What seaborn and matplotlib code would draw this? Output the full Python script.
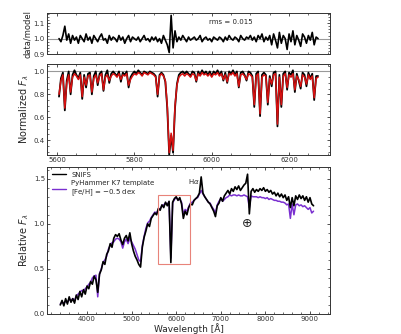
import numpy as np
import pandas as pd
import matplotlib
matplotlib.use("Agg")
import matplotlib.pyplot as plt
from matplotlib.patches import Rectangle
import seaborn as sns

# ---------------- data ----------------
# zoomed region (5 A sampling)
wave_zoom = np.arange(5605, 6276, 5)
model_norm = [
    0.80, 0.92, 0.97, 0.68, 0.90, 0.97, 0.82, 0.95, 0.98, 0.96,
    0.93, 0.97, 0.78, 0.95, 0.88, 0.96, 0.97, 0.82, 0.94, 0.97,
    0.90, 0.96, 0.98, 0.84, 0.95, 0.97, 0.92, 0.96, 0.98, 0.97,
    0.95, 0.98, 0.93, 0.97, 0.96, 0.98, 0.88, 0.93, 0.96, 0.98,
    0.97, 0.99, 0.98, 0.96, 0.99, 0.98, 0.97, 0.99, 0.98, 0.97,
    0.95, 0.80, 0.96, 0.98, 0.96, 0.92, 0.70, 0.29, 0.46, 0.31,
    0.70, 0.88, 0.95, 0.97, 0.98, 0.96, 0.98, 0.97, 0.95, 0.98,
    0.97, 0.92, 0.98, 0.96, 0.99, 0.97, 0.98, 0.96, 0.98, 0.95,
    0.98, 0.97, 0.99, 0.96, 0.98, 0.93, 0.97, 0.91, 0.98, 0.97,
    0.99, 0.96, 0.98, 0.87, 0.97, 0.98, 0.96, 0.93, 0.98, 0.97,
    0.95, 0.71, 0.96, 0.98, 0.63, 0.95, 0.97, 0.96, 0.73, 0.94,
    0.89, 0.97, 0.98, 0.54, 0.95, 0.71, 0.96, 0.98, 0.86, 0.97,
    0.95, 0.98, 0.84, 0.96, 0.93, 0.87, 0.97, 0.95, 0.89, 0.97,
    0.93, 0.96, 0.77, 0.94, 0.95,
]
snifs_norm = [
    0.78, 0.94, 0.99, 0.66, 0.92, 1.00, 0.80, 0.97, 1.01, 0.97,
    0.94, 0.99, 0.76, 0.97, 0.86, 0.98, 0.99, 0.80, 0.96, 1.00,
    0.88, 0.98, 1.00, 0.83, 0.97, 1.01, 0.90, 0.98, 1.00, 0.98,
    0.96, 1.00, 0.91, 0.99, 0.97, 1.00, 0.86, 0.95, 0.98, 1.00,
    0.98, 1.01, 0.99, 0.97, 1.00, 0.99, 0.98, 1.00, 0.99, 0.98,
    0.96, 0.78, 0.97, 0.99, 0.97, 0.91, 0.68, 0.27, 0.44, 0.29,
    0.68, 0.89, 0.97, 0.99, 1.00, 0.98, 1.00, 0.98, 0.96, 1.00,
    0.99, 0.91, 1.00, 0.97, 1.01, 0.98, 1.00, 0.97, 1.00, 0.96,
    1.00, 0.98, 1.01, 0.97, 1.00, 0.92, 0.99, 0.90, 1.00, 0.98,
    1.01, 0.97, 1.00, 0.86, 0.99, 1.00, 0.97, 0.92, 1.00, 0.99,
    0.96, 0.69, 0.98, 1.00, 0.61, 0.97, 0.99, 0.97, 0.71, 0.96,
    0.87, 0.99, 1.00, 0.52, 0.97, 0.69, 0.98, 1.00, 0.84, 0.99,
    0.97, 1.01, 0.82, 0.98, 0.92, 0.85, 0.99, 0.97, 0.87, 0.99,
    0.94, 0.98, 0.75, 0.96, 0.96,
]
ratio = [
    1.00, 0.98, 1.02, 1.08, 0.99, 1.03, 0.97, 1.02, 0.99, 1.01,
    0.97, 1.02, 1.00, 0.98, 1.03, 0.99, 1.01, 0.97, 1.02, 1.00,
    0.98, 1.01, 1.03, 0.99, 1.00, 0.97, 1.02, 0.99, 1.01, 1.00,
    0.98, 1.02, 0.99, 1.01, 0.97, 1.00, 1.02, 0.98, 1.01, 1.00,
    0.99, 1.01, 0.98, 1.00, 1.02, 0.99, 1.00, 0.98, 1.01, 0.99,
    1.01, 0.98, 1.00, 0.97, 1.02, 0.99, 0.96, 0.91, 1.15, 0.94,
    1.05, 0.98, 1.01, 0.99, 1.02, 1.00, 0.98, 1.01, 0.99, 1.00,
    1.01, 0.99, 1.00, 1.02, 0.98, 1.00, 1.01, 0.99, 1.00, 0.98,
    1.01, 1.00, 0.99, 1.01, 1.00, 0.98, 1.01, 0.99, 1.02, 1.00,
    0.99, 1.01, 1.00, 0.98, 1.02, 1.00, 0.99, 1.01, 1.00, 1.02,
    0.99, 1.01, 0.98, 1.02, 1.00, 1.03, 0.98, 1.01, 0.99, 1.02,
    0.96, 1.03, 0.99, 0.94, 1.04, 0.97, 1.02, 1.00, 0.93, 1.03,
    0.98, 1.05, 0.96, 1.02, 0.99, 0.95, 1.03, 1.01, 0.97, 1.02,
    0.99, 1.04, 0.96, 1.01, 1.00,
]

# full spectrum (40 A sampling)
wave_full = np.arange(3400, 9081, 40)
snifs_rel = [
    0.10, 0.15, 0.09, 0.17, 0.11, 0.19, 0.13, 0.17, 0.12, 0.21,
    0.16, 0.25, 0.19, 0.27, 0.22, 0.31, 0.28, 0.36, 0.33, 0.42,
    0.38, 0.24, 0.44, 0.49, 0.58, 0.55, 0.66, 0.70, 0.78, 0.74,
    0.84, 0.88, 0.86, 0.89, 0.82, 0.77, 0.84, 0.87, 0.81, 0.90,
    0.78, 0.70, 0.64, 0.60, 0.55, 0.52, 0.74, 0.85, 0.92, 1.00,
    0.97, 1.06, 1.09, 1.12, 1.10, 1.17, 1.15, 1.21, 1.18, 1.24,
    1.20, 1.25, 0.57, 1.24, 1.28, 1.30, 1.26, 1.29, 1.22, 1.06,
    1.14, 1.10, 1.18, 1.22, 1.21, 1.26, 1.28, 1.30, 1.34, 1.52,
    1.34, 1.30, 1.27, 1.24, 1.22, 1.18, 1.14, 1.08, 1.20, 1.23,
    1.29, 1.25, 1.31, 1.34, 1.37, 1.33, 1.39, 1.36, 1.41, 1.38,
    1.42, 1.37, 1.40, 1.43, 1.45, 1.55, 1.11, 1.36, 1.39, 1.35,
    1.38, 1.36, 1.39, 1.37, 1.40, 1.36, 1.38, 1.35, 1.37, 1.33,
    1.35, 1.31, 1.34, 1.30, 1.33, 1.29, 1.32, 1.26, 1.30, 1.18,
    1.29, 1.20, 1.31, 1.27, 1.32, 1.28, 1.31, 1.26, 1.30, 1.24,
    1.29, 1.22, 1.20,
]
template_rel = [
    0.11, 0.13, 0.12, 0.14, 0.13, 0.16, 0.15, 0.17, 0.15, 0.20,
    0.22, 0.24, 0.26, 0.25, 0.28, 0.30, 0.33, 0.35, 0.40, 0.42,
    0.43, 0.19, 0.45, 0.50, 0.57, 0.60, 0.64, 0.72, 0.76, 0.79,
    0.80, 0.83, 0.84, 0.83, 0.80, 0.73, 0.80, 0.83, 0.78, 0.84,
    0.80, 0.76, 0.72, 0.66, 0.60, 0.58, 0.76, 0.86, 0.95, 1.01,
    1.03, 1.07, 1.10, 1.13, 1.12, 1.16, 1.17, 1.20, 1.21, 1.23,
    1.22, 1.24, 0.62, 1.23, 1.27, 1.29, 1.27, 1.27, 1.24, 1.10,
    1.16, 1.14, 1.19, 1.23, 1.24, 1.26, 1.28, 1.29, 1.33, 1.37,
    1.33, 1.30, 1.27, 1.24, 1.23, 1.19, 1.16, 1.12, 1.21, 1.25,
    1.28, 1.25, 1.27, 1.29, 1.30, 1.32, 1.31, 1.32, 1.32, 1.31,
    1.32, 1.31, 1.31, 1.32, 1.31, 1.30, 1.18, 1.31, 1.30, 1.30,
    1.30, 1.29, 1.30, 1.29, 1.29, 1.28, 1.29, 1.27, 1.28, 1.27,
    1.26, 1.26, 1.25, 1.25, 1.24, 1.24, 1.23, 1.21, 1.22, 1.06,
    1.22, 1.10, 1.21, 1.22, 1.20, 1.21, 1.19, 1.20, 1.18, 1.16,
    1.18, 1.12, 1.14,
]

legend_labels = ["SNIFS", "PyHammer K7 template\n[Fe/H] = $-$0.5 dex"]

# ---------------- style ----------------
sns.set_style("ticks")
plt.rcParams["font.family"] = ["DejaVu Sans"]
plt.rcParams.update({
    "xtick.direction": "in", "ytick.direction": "in",
    "xtick.top": True, "ytick.right": True,
    "xtick.minor.visible": True, "ytick.minor.visible": True,
    "xtick.major.size": 2.5, "ytick.major.size": 2.5,
    "xtick.minor.size": 1.3, "ytick.minor.size": 1.3,
    "xtick.major.width": 0.6, "ytick.major.width": 0.6,
    "xtick.minor.width": 0.5, "ytick.minor.width": 0.5,
    "axes.linewidth": 0.7, "axes.edgecolor": "#333333",
    "xtick.labelsize": 5, "ytick.labelsize": 5,
    "xtick.color": "#333333", "ytick.color": "#333333",
    "xtick.major.pad": 1.5, "ytick.major.pad": 1.5,
})

fig = plt.figure(figsize=(4.02, 3.34), dpi=100)
ax_top = fig.add_axes([0.117, 0.838, 0.704, 0.123])
ax_mid = fig.add_axes([0.117, 0.536, 0.704, 0.272], sharex=ax_top)
ax_bot = fig.add_axes([0.117, 0.060, 0.704, 0.440])

# top: residuals
ax_top.axhline(1.0, color="#999999", lw=0.8, zorder=1)
sns.lineplot(x=wave_zoom, y=ratio, ax=ax_top, color="black", lw=1.2,
             estimator=None, sort=False, zorder=2)
ax_top.set_ylim(0.9, 1.165)
ax_top.set_yticks([0.9, 1.0, 1.1])
ax_top.set_ylabel("data/model", fontsize=6, labelpad=1)
ax_top.tick_params(labelbottom=False)
ax_top.text(6050, 1.11, "rms = 0.015", fontsize=5, ha="center", va="center")

# middle: normalised zoom
ax_mid.axhline(1.0, color="#999999", lw=0.8, zorder=1)
sns.lineplot(x=wave_zoom, y=snifs_norm, ax=ax_mid, color="black", lw=1.3,
             estimator=None, sort=False, zorder=2)
sns.lineplot(x=wave_zoom, y=model_norm, ax=ax_mid, color="#d61010", lw=1.1,
             estimator=None, sort=False, zorder=3)
ax_mid.set_xlim(5574, 6306)
ax_mid.set_ylim(0.27, 1.064)
ax_mid.set_xticks([5600, 5800, 6000, 6200])
ax_mid.set_yticks([0.4, 0.6, 0.8, 1.0])
ax_mid.set_ylabel(r"Normalized $F_\lambda$", fontsize=7, labelpad=2)

# bottom: full spectrum
sns.lineplot(x=wave_full, y=snifs_rel, ax=ax_bot, color="black", lw=1.2,
             estimator=None, sort=False, zorder=3, label=legend_labels[0])
sns.lineplot(x=wave_full, y=template_rel, ax=ax_bot, color="#7a2fd0", lw=1.1,
             estimator=None, sort=False, zorder=2, label=legend_labels[1])
ax_bot.set_xlim(3103, 9450)
ax_bot.set_ylim(0.0, 1.63)
ax_bot.set_xticks([4000, 5000, 6000, 7000, 8000, 9000])
ax_bot.set_yticks([0.0, 0.5, 1.0, 1.5])
ax_bot.set_xlabel("Wavelength [Å]", fontsize=6.5, labelpad=0.5)
ax_bot.set_ylabel(r"Relative $F_\lambda$", fontsize=7, labelpad=2)
ax_bot.add_patch(Rectangle((5600, 0.55), 700, 0.77, fill=False,
                           edgecolor="#e8837a", lw=0.8, zorder=4))
ax_bot.text(6390, 1.47, r"H$\alpha$", fontsize=5, ha="center", va="center")
ax_bot.text(7600, 1.0, "⊕", fontsize=9, ha="center", va="center")
leg = ax_bot.legend(loc="upper left", frameon=False, fontsize=5,
                    handlelength=2.0, borderaxespad=0.3, labelspacing=0.3)
for line in leg.get_lines():
    line.set_linewidth(1.0)

fig.savefig("out.png", dpi=100)
